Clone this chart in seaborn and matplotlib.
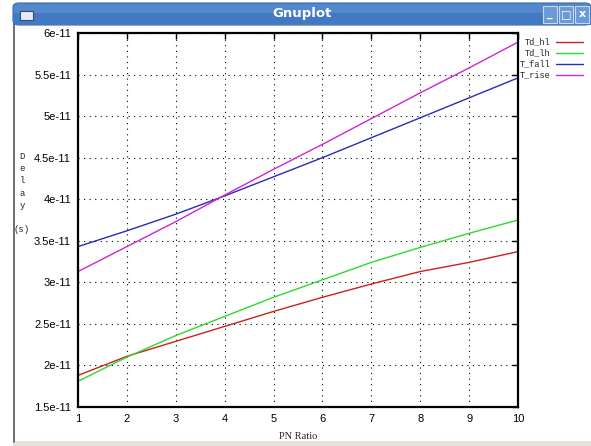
import matplotlib
matplotlib.use("Agg")
import matplotlib.pyplot as plt
from matplotlib.patches import Rectangle, FancyBboxPatch
from matplotlib.lines import Line2D
import numpy as np
import pandas as pd
import seaborn as sns

# data (delay in units of 1e-11 s)
pn_ratio = [1, 2, 3, 4, 5, 6, 7, 8, 9, 10]
td_hl = [1.88, 2.11, 2.29, 2.47, 2.65, 2.82, 2.98, 3.13, 3.24, 3.37]
td_lh = [1.81, 2.10, 2.36, 2.59, 2.82, 3.03, 3.24, 3.42, 3.59, 3.75]
t_fall = [3.43, 3.62, 3.82, 4.04, 4.27, 4.50, 4.74, 4.98, 5.22, 5.46]
t_rise = [3.13, 3.43, 3.73, 4.05, 4.36, 4.66, 4.97, 5.28, 5.58, 5.89]
series_names = ["Td_hl", "Td_lh", "T_fall", "T_rise"]
colors = ["#cc1f1f", "#2ed82e", "#2b2bb5", "#d025d0"]

df = pd.DataFrame({"PN Ratio": pn_ratio, "Td_hl": td_hl, "Td_lh": td_lh,
                   "T_fall": t_fall, "T_rise": t_rise})
long = df.melt(id_vars="PN Ratio", var_name="series", value_name="delay")
long["delay"] = long["delay"] * 1e-11

sns.set_style("white")
W, H = 591, 446
fig = plt.figure(figsize=(W / 100, H / 100), dpi=100)
fig.patch.set_facecolor("white")

# window chrome: title bar, left border, bottom strip
fig.add_artist(FancyBboxPatch((13 / W, 1 - 25 / H), (W - 13) / W, 22 / H,
                              boxstyle="round,pad=0,rounding_size=0.01",
                              transform=fig.transFigure, facecolor="#5288cc",
                              edgecolor="#3a69a8", lw=0.8))
fig.add_artist(Rectangle((13 / W, 1 - 25 / H), (W - 13) / W, 12 / H,
                         transform=fig.transFigure, facecolor="#4279c2",
                         edgecolor="none"))
fig.text(302 / W, 1 - 14 / H, "Gnuplot", color="white", fontsize=9.5,
         fontweight="bold", ha="center", va="center", family="DejaVu Sans")
fig.add_artist(Rectangle((20 / W, 1 - 20 / H), 13 / W, 9 / H,
                         transform=fig.transFigure, facecolor="#e8ecf2",
                         edgecolor="#2c4f80", lw=0.8))
for i, sym in enumerate(["_", "□", "x"]):
    x0 = (543 + i * 16) / W
    fig.add_artist(Rectangle((x0, 1 - 23 / H), 14 / W, 17 / H,
                             transform=fig.transFigure, facecolor="#6a9ad8",
                             edgecolor="#c8d8f0", lw=0.8))
    fig.text(x0 + 7 / W, 1 - 14 / H, sym, color="white", fontsize=8,
             fontweight="bold", ha="center", va="center")
fig.add_artist(Line2D([13.5 / W, 13.5 / W], [4 / H, 1 - 25 / H],
                      transform=fig.transFigure, color="#555555", lw=1.2))
fig.add_artist(Rectangle((13 / W, 0), (W - 13) / W, 5 / H,
                         transform=fig.transFigure, facecolor="#e6e3de",
                         edgecolor="none"))

# plot area
ax = fig.add_axes([78 / W, 1 - 407 / H, (518 - 78) / W, (407 - 33) / H])
sns.lineplot(data=long, x="PN Ratio", y="delay", hue="series",
             hue_order=series_names, palette=colors, linewidth=1.0,
             legend=False, ax=ax)

ax.set_xlim(1, 10)
ax.set_ylim(1.5e-11, 6e-11)
ax.set_xticks(pn_ratio)
yt = np.arange(1.5, 6.01, 0.5)
ax.set_yticks(yt * 1e-11)
ax.set_yticklabels([f"{v:g}e-11" for v in yt])
ax.grid(True, color="black", linestyle=(0, (1, 4)), linewidth=0.8)
ax.tick_params(direction="in", length=4, width=1, top=True, right=True,
               labelsize=8, pad=5, colors="black")
for lab in ax.get_xticklabels() + ax.get_yticklabels():
    lab.set_family("Liberation Sans")
for s in ax.spines.values():
    s.set_color("black")
    s.set_linewidth(1.6)
ax.set_xlabel("PN Ratio", family="Liberation Serif", fontsize=7.5, labelpad=6)
ax.set_ylabel("")
fig.text(22 / W, 1 - 193 / H, "D\ne\nl\na\ny\n\n(s)", family="Liberation Mono",
         fontsize=6.5, ha="center", va="center", linespacing=1.45)

# gnuplot style key, outside on the right
for i, line in enumerate(ax.get_lines()[:4]):
    yk = 1 - (42 + i * 11) / H
    fig.text(550 / W, yk, series_names[i], family="Liberation Mono",
             fontsize=6.2, ha="right", va="center")
    fig.add_artist(Line2D([556 / W, 583 / W], [yk, yk], transform=fig.transFigure,
                          color=line.get_color(), lw=1.0))

fig.savefig("out.png", dpi=100)
